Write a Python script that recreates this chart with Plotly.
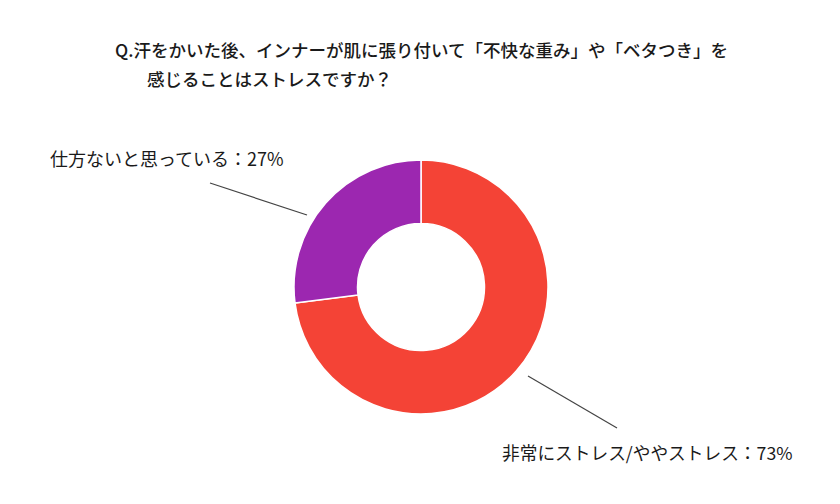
import plotly.graph_objects as go

# data
labels = ["非常にストレス/ややストレス", "仕方ないと思っている"]
values = [73, 27]
colors = ["#F44336", "#9C27B0"]

title_lines = [
    "Q.汗をかいた後、インナーが肌に張り付いて「不快な重み」や「ベタつき」を",
    "感じることはストレスですか？",
]

W, H = 840, 504
FONT = "Noto Sans CJK JP"


def px(x, y):
    # pixel -> paper coords
    return x / W, 1 - y / H


fig = go.Figure(
    go.Pie(
        labels=labels,
        values=values,
        hole=0.5,
        sort=False,
        direction="clockwise",
        rotation=0,
        marker=dict(colors=colors, line=dict(color="white", width=1.5)),
        textinfo="none",
        hoverinfo="label+percent",
        domain=dict(x=[294 / W, 548 / W], y=[1 - 415 / H, 1 - 159 / H]),
    )
)

# title (two lines, second indented)
x0, y0 = px(113, 50)
x1, y1 = px(145, 78)
fig.add_annotation(x=x0, y=y0, text=title_lines[0], xanchor="left", yanchor="middle",
                   showarrow=False, font=dict(size=17.5, color="#1a1a1a", weight=500))
fig.add_annotation(x=x1, y=y1, text=title_lines[1], xanchor="left", yanchor="middle",
                   showarrow=False, font=dict(size=17.5, color="#1a1a1a", weight=500))

# slice labels
lx, ly = px(48, 158)
fig.add_annotation(x=lx, y=ly, text=f"{labels[1]}：{values[1]}%", xanchor="left",
                   yanchor="middle", showarrow=False, font=dict(size=18, color="#1a1a1a"))
rx, ry = px(500, 452)
fig.add_annotation(x=rx, y=ry, text=f"{labels[0]}：{values[0]}%", xanchor="left",
                   yanchor="middle", showarrow=False, font=dict(size=17.7, color="#1a1a1a"))

# leader lines
for (a, b), (c, d) in [((210, 183), (307, 215)), ((528, 376), (617, 428))]:
    xa, ya = px(a, b)
    xc, yc = px(c, d)
    fig.add_shape(type="line", xref="paper", yref="paper", x0=xa, y0=ya, x1=xc, y1=yc,
                  line=dict(color="#444", width=1.2))

fig.update_layout(
    width=W,
    height=H,
    margin=dict(l=0, r=0, t=0, b=0),
    showlegend=False,
    paper_bgcolor="white",
    font=dict(family=FONT, color="#1a1a1a"),
)

fig.write_html("out.html", config={"displayModeBar": False},
               post_script="document.body.style.margin='0';")
